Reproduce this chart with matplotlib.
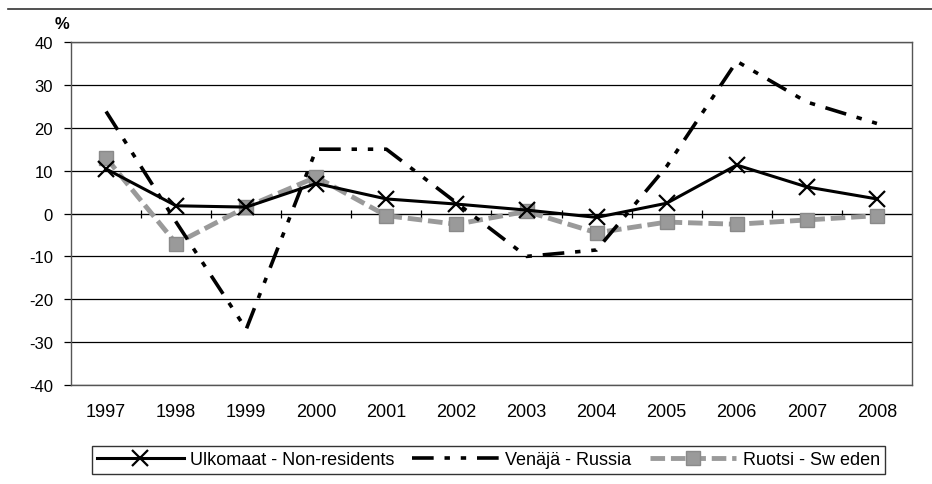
import matplotlib
matplotlib.use("Agg")
import matplotlib.pyplot as plt
from matplotlib.lines import Line2D

plt.rcParams['font.family'] = ['Liberation Sans', 'DejaVu Sans']
plt.rcParams['axes.unicode_minus'] = False

years = ['1997', '1998', '1999', '2000', '2001', '2002', '2003', '2004', '2005', '2006', '2007', '2008']
non_residents = [10.4, 1.8, 1.5, 7.0, 3.4, 2.2, 0.8, -0.9, 2.4, 11.3, 6.2, 3.4]
russia = [23.8, -2.0, -27.0, 15.0, 15.0, 2.5, -10.0, -8.5, 11.0, 35.5, 26.0, 21.0]
sweden = [13.0, -7.0, 1.5, 8.5, -0.5, -2.5, 0.5, -4.5, -2.0, -2.5, -1.5, -0.5]
labels = ['Ulkomaat - Non-residents', 'Venäjä - Russia', 'Ruotsi - Sw eden']

fig = plt.figure(figsize=(9.32, 4.85), dpi=100)
ax = fig.add_axes([0.0762, 0.2041, 0.9023, 0.7072])

x = list(range(len(years)))
ax.plot(x, sweden, color='#9a9a9a', lw=3.5, dashes=(3, 1.2), marker='s', ms=10,
        mfc='#9a9a9a', mec='#8a8a8a', zorder=3, label=labels[2])
ax.plot(x, russia, color='black', lw=2.6, dashes=(6, 3, 1.5, 3, 1.5, 3), zorder=4, label=labels[1])
ax.plot(x, non_residents, color='black', lw=2.2, marker='x', ms=11, mew=1.6, zorder=5, label=labels[0])

ax.set_xlim(-0.5, len(years) - 0.5)
ax.set_ylim(-40, 40)
ax.set_yticks(range(-40, 41, 10))
ax.set_xticks(x)
ax.set_xticklabels(years)
ax.grid(axis='y', color='black', lw=0.9)
ax.set_axisbelow(True)
for s in ax.spines.values():
    s.set_color('#555555')
    s.set_linewidth(1.0)
ax.tick_params(axis='x', length=0, pad=13, labelsize=13)
ax.tick_params(axis='y', length=5, width=0.9, direction='out', pad=8, labelsize=12)

sec = ax.secondary_xaxis(0.5)
sec.set_xticks([i + 0.5 for i in x[:-1]])
sec.set_xticklabels([])
sec.tick_params(axis='x', length=6, width=0.9, direction='inout', color='black')
sec.spines['bottom'].set_color('black')

fig.text(0.0665, 0.935, '%', fontsize=12, fontweight='bold', ha='center', va='bottom')
fig.add_artist(Line2D([0.009, 1.0], [0.979, 0.979], color='#333333', lw=1.2))

handles, labs = ax.get_legend_handles_labels()
order = [2, 1, 0]
leg = fig.legend([handles[i] for i in order], [labs[i] for i in order], loc='center',
                 bbox_to_anchor=(0.524, 0.0495), ncol=3, frameon=True, fancybox=False,
                 edgecolor='black', fontsize=13, handlelength=4.8, columnspacing=1.0,
                 handletextpad=0.35, borderpad=0.3)
leg.get_frame().set_linewidth(1.0)

fig.savefig('out.png', dpi=100)
